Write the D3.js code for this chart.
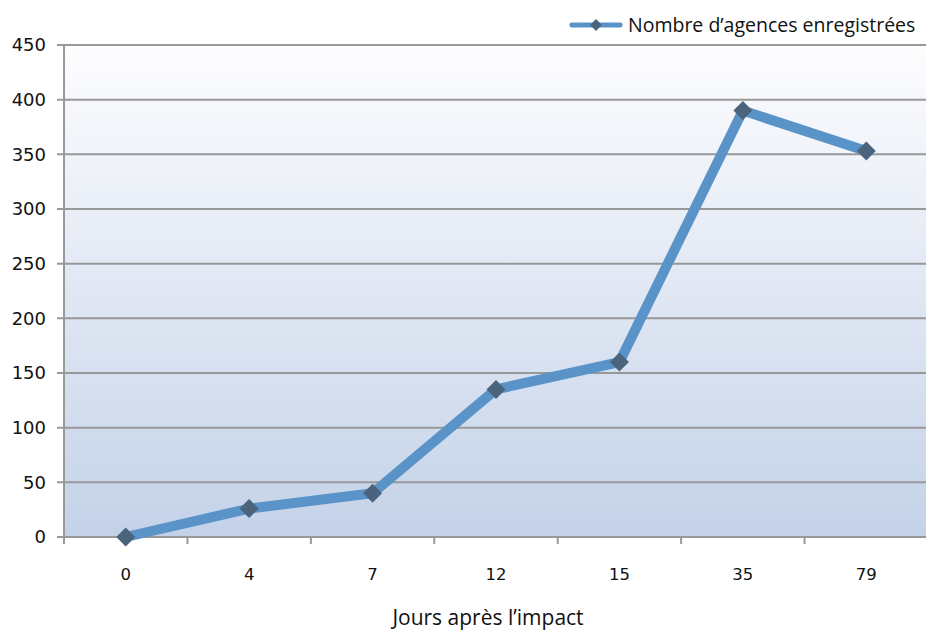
<!DOCTYPE html>
<html>
<head>
<meta charset="utf-8">
<script src="https://cdn.jsdelivr.net/npm/d3@7"></script>
<style>
  html, body { margin: 0; padding: 0; background: #ffffff; }
  svg { display: block; }
</style>
</head>
<body>
<svg id="chart" width="926" height="633"></svg>
<script>
// Registered agencies by day after impact
const days = ["0", "4", "7", "12", "15", "35", "79"];
const agencies = [0, 26, 40, 135, 160, 390, 353];
const yTicks = [0, 50, 100, 150, 200, 250, 300, 350, 400, 450];
const seriesName = "Nombre d’agences enregistrées";
const xTitle = "Jours après l’impact";

const W = 926, H = 633;
const plot = { left: 64, right: 928, top: 45, bottom: 537 };

const svg = d3.select("#chart");

const defs = svg.append("defs");
const grad = defs.append("linearGradient")
  .attr("id", "bg").attr("x1", 0).attr("y1", 0).attr("x2", 0).attr("y2", 1);
grad.append("stop").attr("offset", "0%").attr("stop-color", "#fdfdff");
grad.append("stop").attr("offset", "100%").attr("stop-color", "#c4d2e8");

const x = d3.scaleBand().domain(days).range([plot.left, plot.right]);
const y = d3.scaleLinear().domain([0, 450]).range([plot.bottom, plot.top]);

// plot background
svg.append("rect")
  .attr("x", plot.left).attr("y", plot.top)
  .attr("width", plot.right - plot.left).attr("height", plot.bottom - plot.top)
  .attr("fill", "url(#bg)");

// horizontal gridlines
svg.append("g").selectAll("line").data(yTicks).join("line")
  .attr("x1", plot.left - 7).attr("x2", plot.right)
  .attr("y1", d => y(d)).attr("y2", d => y(d))
  .attr("stroke", "#989898").attr("stroke-width", 2);

// y axis line
svg.append("line")
  .attr("x1", plot.left).attr("x2", plot.left)
  .attr("y1", plot.top).attr("y2", plot.bottom)
  .attr("stroke", "#989898").attr("stroke-width", 2);

// y tick labels
svg.append("g").selectAll("text").data(yTicks).join("text")
  .attr("x", plot.left - 18).attr("y", d => y(d))
  .attr("dy", "0.36em")
  .attr("text-anchor", "end")
  .attr("font-family", "'DejaVu Sans', Verdana, sans-serif")
  .attr("font-size", 18)
  .attr("fill", "#111")
  .text(d => d);

// x axis ticks at category boundaries
const bounds = days.map(d => x(d)).concat([plot.right]);
svg.append("g").selectAll("line").data(bounds).join("line")
  .attr("x1", d => d).attr("x2", d => d)
  .attr("y1", plot.bottom).attr("y2", plot.bottom + 7)
  .attr("stroke", "#989898").attr("stroke-width", 2);

// x tick labels
svg.append("g").selectAll("text").data(days).join("text")
  .attr("x", d => x(d) + x.bandwidth() / 2)
  .attr("y", 580)
  .attr("text-anchor", "middle")
  .attr("font-family", "'DejaVu Sans', Verdana, sans-serif")
  .attr("font-size", 16.5)
  .attr("fill", "#111")
  .text(d => d);

// axis title
svg.append("text")
  .attr("x", 488).attr("y", 625)
  .attr("text-anchor", "middle")
  .attr("font-family", "'Open Sans', 'Noto Sans', sans-serif")
  .attr("font-size", 21)
  .attr("fill", "#111")
  .text(xTitle);

// series line
const pts = days.map((d, i) => [x(d) + x.bandwidth() / 2, y(agencies[i])]);
svg.append("path")
  .attr("d", d3.line()(pts))
  .attr("fill", "none")
  .attr("stroke", "#5a93c8")
  .attr("stroke-width", 10)
  .attr("stroke-linejoin", "miter");

// diamond markers
svg.append("g").selectAll("path").data(pts).join("path")
  .attr("d", d3.symbol().type(d3.symbolSquare).size(180)())
  .attr("transform", d => `translate(${d[0]},${d[1]}) rotate(45)`)
  .attr("fill", "#4a647d");

// legend
const lg = svg.append("g");
lg.append("line")
  .attr("x1", 572).attr("x2", 620).attr("y1", 25).attr("y2", 25)
  .attr("stroke", "#5a93c8").attr("stroke-width", 5).attr("stroke-linecap", "round");
lg.append("path")
  .attr("d", d3.symbol().type(d3.symbolSquare).size(70)())
  .attr("transform", "translate(596,25) rotate(45)")
  .attr("fill", "#4a647d");
lg.append("text")
  .attr("x", 628).attr("y", 25).attr("dy", "0.35em")
  .attr("font-family", "'Open Sans', 'Noto Sans', sans-serif")
  .attr("font-size", 19.5)
  .attr("fill", "#111")
  .text(seriesName);
</script>
</body>
</html>
